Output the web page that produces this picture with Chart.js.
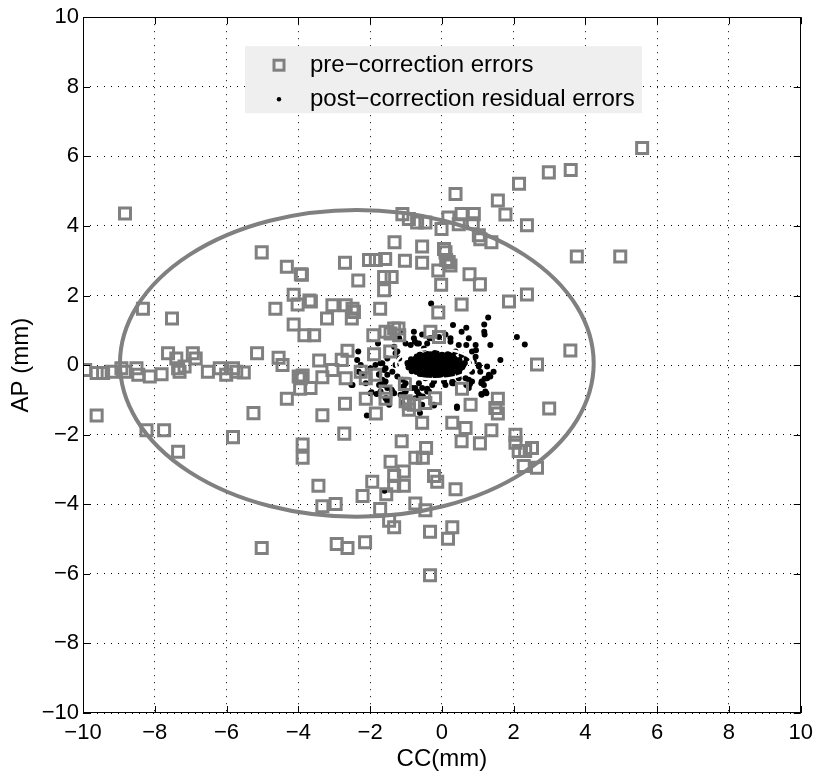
<!DOCTYPE html>
<html>
<head>
<meta charset="utf-8">
<script src="https://cdn.jsdelivr.net/npm/chart.js@4/dist/chart.umd.min.js"></script>
<style>
  html, body { margin: 0; padding: 0; background: #fff; }
  canvas { display: block; }
</style>
</head>
<body>
<canvas id="errChart" width="820" height="774"></canvas>
<script>
// pre-correction errors [CC, AP] in mm
const preCorrection = [
  [5.58, 6.24], [3.59, 5.61], [2.98, 5.54], [2.15, 5.21], [0.38, 4.92], [1.56, 4.73],
  [1.77, 4.33], [2.37, 4.02], [0.55, 4.34], [0.89, 4.34], [0.47, 4.05], [0.86, 4.08],
  [1.03, 3.73], [1.07, 3.62], [1.38, 3.53], [3.76, 3.12], [4.97, 3.12], [0.77, 2.61],
  [1.06, 2.32], [0.55, 1.74], [1.87, 1.83], [2.37, 2.03], [3.58, 0.42], [2.65, 0.02],
  [-1.1, 4.34], [-0.92, 4.2], [-0.69, 4.1], [-0.46, 4.1], [-0.01, 3.91], [0.18, 4.24],
  [-1.32, 3.53], [-0.55, 3.41], [0.06, 3.34], [0.1, 3.24], [0.19, 2.96], [0.24, 2.86],
  [0.12, 3.02], [-2.7, 2.94], [-2.03, 3.02], [-1.84, 3.02], [-1.58, 3.05], [-1.03, 3.0],
  [-0.55, 2.94], [-0.1, 2.72], [-0.02, 2.31], [-3.9, 2.6], [-2.33, 2.43], [-1.61, 2.53],
  [-1.4, 2.53], [-1.61, 2.15], [-0.1, 1.51], [-1.72, 1.62], [-3.65, 1.83], [-3.05, 1.72],
  [-2.68, 1.72], [-2.49, 1.62], [-2.45, 1.53], [-2.51, 1.34], [-3.2, 1.34], [-3.83, 0.86],
  [-3.56, 0.86], [-1.91, 0.86], [-1.43, 0.91], [-1.21, 1.05], [-0.32, 0.96], [-0.08, 0.81],
  [-1.57, 0.96], [-1.33, 1.05], [-1.19, 0.86],
  [-2.63, 0.41], [-2.79, 0.15], [-3.42, 0.13], [-1.89, 0.31], [-1.44, 0.39], [-3.05, -0.14],
  [-3.88, -0.3], [-3.66, -0.66], [-3.33, -0.35], [-2.68, -0.38], [-2.26, -0.19], [-2.12, -0.38],
  [-1.86, -0.28], [-1.03, -0.54], [0.56, -0.68], [-1.57, -0.76], [-1.01, -1.04],
  [-2.7, -1.11], [-2.12, -0.97], [-1.57, -0.97], [-0.92, -1.11], [-0.78, -1.14], [-0.19, -0.95],
  [0.8, -1.14], [1.56, -0.97], [2.99, -1.25], [1.49, -1.23],
  [1.56, -1.39], [0.29, -1.66], [0.66, -1.81], [1.38, -1.87], [0.55, -2.19], [1.06, -2.25],
  [2.05, -2.0], [2.05, -2.23], [2.14, -2.47], [2.32, -2.47], [2.51, -2.38], [2.28, -2.9],
  [2.65, -2.95], [-0.55, -1.66], [-3.33, -1.44], [-2.72, -1.97], [-1.84, -1.39], [-0.92, -1.28],
  [-0.46, -1.09], [-3.88, -2.28], [-3.88, -2.66], [-1.12, -2.19], [-0.44, -2.38], [-0.74, -2.66],
  [-0.53, -2.66], [-1.43, -2.78], [-1.06, -3.06], [-1.33, -3.19], [-1.94, -3.35], [-1.33, -3.47],
  [-1.06, -3.47], [-1.55, -3.71], [-0.22, -3.19], [-0.13, -3.35], [0.38, -3.57], [-3.44, -3.47],
  [-2.21, -3.76], [-2.96, -3.99], [-3.33, -4.06], [-0.74, -3.98], [-1.72, -4.14], [-0.46, -4.17],
  [-1.47, -4.47], [-1.33, -4.66], [-0.33, -4.79], [0.29, -4.66], [0.17, -4.99], [-2.93, -5.14],
  [-2.63, -5.26], [-2.14, -5.09], [-0.33, -6.04],
  [-9.62, -1.45], [-8.23, -1.87], [-7.74, -1.87], [-7.35, -2.49], [-5.82, -2.07], [-5.25, -1.38],
  [-4.32, -0.97], [-5.02, -5.26],
  [-8.83, 4.36], [-5.02, 3.24], [-4.32, 2.83], [-3.93, 2.61], [-4.13, 2.02], [-4.02, 1.74],
  [-3.69, 1.86], [-4.64, 1.62], [-8.33, 1.62], [-7.52, 1.34], [-4.13, 1.17], [-5.15, 0.34],
  [-4.55, 0.21], [-4.44, 0.0], [-3.99, -0.33], [-3.93, -0.38], [-3.95, -0.68],
  [-9.94, -0.14], [-9.62, -0.23], [-9.44, -0.23], [-9.2, -0.19], [-8.93, -0.09], [-8.83, -0.19],
  [-8.51, -0.09], [-8.46, -0.28], [-8.14, -0.33], [-7.81, -0.26], [-7.63, 0.34], [-7.4, 0.19],
  [-7.35, -0.09], [-7.31, -0.19], [-7.17, -0.04], [-6.94, 0.34], [-6.86, 0.19], [-6.52, -0.19],
  [-6.19, -0.09], [-6.01, -0.28], [-5.82, -0.09], [-5.73, -0.19], [-5.52, -0.21]
];

// post-correction residual errors [CC, AP] in mm
const postCorrection = [
  [-0.3, 1.77], [1.29, 1.37], [0.31, 1.15], [0.55, 0.96], [0.68, 1.07], [1.18, 1.17],
  [1.18, 0.96], [1.19, 0.88], [2.09, 0.81], [2.31, 0.59], [1.35, 0.58], [1.63, 0.15],
  [-1.08, 0.96], [-0.78, 0.96], [-0.55, 0.88], [-0.75, 0.67], [-0.34, 0.77], [-0.08, 0.81],
  [0.1, 0.88], [0.24, 0.67], [0.47, 0.58], [0.68, 0.58], [0.95, 0.43], [0.94, 0.24],
  [0.89, 0.1], [1.03, -0.04], [1.07, -0.19], [1.26, -0.04], [1.31, -0.28], [1.19, -0.39],
  [1.11, -0.47], [0.84, -0.19], [0.75, -0.42], [0.68, -0.57], [0.47, -0.38], [0.33, -0.52],
  [0.06, -0.47], [-0.22, -0.47], [-0.46, -0.38], [-0.64, -0.52], [-0.83, -0.66], [-1.06, -0.61],
  [-1.38, -0.76], [-1.57, -0.95], [-1.47, -1.14], [-0.55, -0.66], [-0.6, -0.9], [-0.36, -0.76],
  [-0.22, -1.14], [0.42, -1.19], [1.11, -0.85], [1.21, -0.76], [1.44, -0.19],
  [-1.33, 0.53], [-1.29, 0.34], [-1.52, 0.19], [-1.71, 0.05], [-1.57, -0.09], [-1.38, -0.19],
  [-1.24, -0.33], [-1.1, -0.42], [-1.01, -0.52], [-0.87, 0.58], [-0.64, 0.62], [-0.5, 0.48],
  [-1.19, 0.77], [0.38, 0.39], [0.55, 0.29], [0.69, 0.19], [-1.75, -0.28], [-1.66, -0.42],
  [-1.61, -0.57], [-1.71, -0.76], [-1.15, -0.85], [-0.74, -0.95], [-1.1, -1.09],
  [-1.78, 0.62], [-2.33, 0.39], [-2.36, 0.15], [-2.26, 0.0], [-2.32, -0.19], [-2.23, -0.26],
  [-1.99, -0.09], [-1.85, 0.0], [-2.49, -0.57], [-2.12, -0.52], [-1.96, -0.78], [-1.75, -0.57],
  [-1.57, -0.47], [-1.52, -0.66], [-1.47, -1.0], [-1.33, -0.81], [-1.66, 0.05], [-1.61, -0.14],
  [-1.52, -0.28], [-1.75, -0.26], [-1.24, 0.39], [-1.19, 0.19], [-1.29, 0.0], [-1.01, 0.62],
  [-0.78, 0.77], [-0.69, 0.62], [-0.41, 0.62], [-0.27, 0.77], [0.24, 0.77],
  [-1.01, -0.76], [-0.74, -0.66], [-0.64, -0.85], [-0.41, -0.76], [-0.27, -0.57], [-0.55, -1.14],
  [0.1, -0.57], [0.29, -0.47], [0.47, -0.28], [0.66, -0.38], [0.84, -0.47], [0.75, -0.66],
  [1.17, -0.57], [1.26, -0.38], [1.35, -0.33], [1.1, -0.83], [0.84, 0.39], [1.03, 0.0],
  [0.94, 0.58], [0.75, 0.77], [0.42, -1.23],
  [-2.52, -0.57], [-1.99, -0.81], [-1.82, -0.83], [-1.7, -0.55], [-1.55, -0.95], [-1.52, -1.04],
  [-1.4, -0.71], [-1.1, -0.64], [-1.06, -0.83], [-0.69, -0.76], [-0.53, -0.9], [-0.41, -0.68],
  [-0.22, -1.16], [-0.61, -1.38], [-2.09, -1.45], [0.78, -0.55], [1.1, -0.52], [1.24, -0.81],
  [0.29, -0.52], [-1.6, -3.61],
  // dense core inside the residual ellipse
  [-0.9, 0.05], [-0.8, 0.15], [-0.8, -0.05], [-0.7, 0.25], [-0.7, 0.05], [-0.7, -0.15],
  [-0.6, 0.3], [-0.6, 0.1], [-0.6, -0.1], [-0.6, -0.25], [-0.5, 0.2], [-0.5, 0.0],
  [-0.5, -0.2], [-0.4, 0.32], [-0.4, 0.12], [-0.4, -0.08], [-0.4, -0.28], [-0.3, 0.22],
  [-0.3, 0.02], [-0.3, -0.18], [-0.2, 0.35], [-0.2, 0.15], [-0.2, -0.05], [-0.2, -0.25],
  [-0.1, 0.25], [-0.1, 0.05], [-0.1, -0.15], [-0.1, -0.3], [0.0, 0.3], [0.0, 0.1],
  [0.0, -0.1], [0.0, -0.25], [0.1, 0.22], [0.1, 0.02], [0.1, -0.18], [0.2, 0.3],
  [0.2, 0.1], [0.2, -0.1], [0.2, -0.25], [0.3, 0.2], [0.3, 0.0], [0.3, -0.2],
  [0.4, 0.12], [0.4, -0.08], [0.5, 0.05], [0.5, -0.12], [0.6, 0.0], [-0.75, 0.0],
  [-0.55, 0.18], [-0.35, -0.12], [-0.15, 0.28], [0.05, -0.05], [0.15, 0.15], [0.25, -0.15],
  [0.35, 0.08], [-0.45, 0.08], [-0.25, 0.1], [0.45, -0.02], [-0.65, -0.05], [0.05, 0.2],
  [-0.62, 0.3], [-0.46, 0.29], [-0.31, 0.31], [-0.14, 0.33], [0.02, 0.29], [0.16, 0.31], [0.31, 0.27],
  [-0.86, 0.17], [-0.73, 0.19], [-0.57, 0.16], [-0.44, 0.19], [-0.33, 0.16], [-0.18, 0.19],
  [-0.05, 0.17], [0.09, 0.18], [0.22, 0.16], [0.36, 0.18], [0.49, 0.15],
  [-0.96, 0.06], [-0.83, 0.05], [-0.67, 0.07], [-0.54, 0.05], [-0.41, 0.06], [-0.27, 0.04],
  [-0.14, 0.07], [-0.01, 0.05], [0.13, 0.06], [0.27, 0.04], [0.39, 0.07], [0.53, 0.05], [0.64, 0.06],
  [-0.93, -0.07], [-0.79, -0.06], [-0.66, -0.08], [-0.52, -0.06], [-0.38, -0.07], [-0.25, -0.05],
  [-0.11, -0.08], [0.03, -0.06], [0.17, -0.07], [0.31, -0.05], [0.44, -0.07], [0.57, -0.06],
  [-0.84, -0.18], [-0.71, -0.2], [-0.57, -0.17], [-0.45, -0.19], [-0.31, -0.21], [-0.17, -0.18],
  [-0.04, -0.2], [0.11, -0.17], [0.24, -0.19], [0.37, -0.18], [0.48, -0.2],
  [-0.61, -0.28], [-0.47, -0.3], [-0.33, -0.29], [-0.18, -0.31], [-0.03, -0.28], [0.13, -0.3], [0.28, -0.28]
];

// error ellipses (centre and semi-axes in mm)
const preEllipse = { cx: -2.37, cy: 0.05, rx: 6.6, ry: 4.41 };
const postEllipse = { cx: -0.2, cy: 0.03, rx: 1.08, ry: 0.44 };

const axisTicks = [-10, -8, -6, -4, -2, 0, 2, 4, 6, 8, 10];
const seriesLabels = ["pre\u2212correction errors", "post\u2212correction residual errors"];

const FONT = "'Liberation Sans', Arial, Helvetica, sans-serif";
const GREY = "#808080";

function toPoints(list) {
  return list.map(([x, y]) => ({ x: x, y: y }));
}

function minusSign(v) {
  return String(v).replace("-", "\u2212");
}

function drawEllipse(chart, e, color, width) {
  const xs = chart.scales.x, ys = chart.scales.y;
  const cx = xs.getPixelForValue(e.cx);
  const cy = ys.getPixelForValue(e.cy);
  const rx = Math.abs(xs.getPixelForValue(e.cx + e.rx) - cx);
  const ry = Math.abs(ys.getPixelForValue(e.cy + e.ry) - cy);
  const ctx = chart.ctx;
  ctx.save();
  ctx.beginPath();
  ctx.ellipse(cx, cy, rx, ry, 0, 0, Math.PI * 2);
  ctx.strokeStyle = color;
  ctx.lineWidth = width;
  ctx.stroke();
  ctx.restore();
}

// ellipses, axes box with inward ticks, and the boxed legend
const overlayPlugin = {
  id: "overlay",
  afterDatasetsDraw(chart) {
    const ctx = chart.ctx;
    const area = chart.chartArea;
    const xs = chart.scales.x, ys = chart.scales.y;

    drawEllipse(chart, preEllipse, GREY, 4);
    drawEllipse(chart, postEllipse, "#ffffff", 2.5);

    // frame
    ctx.save();
    ctx.strokeStyle = "#000";
    ctx.lineWidth = 1;
    ctx.strokeRect(Math.round(area.left) + 0.5, Math.round(area.top) + 0.5,
      Math.round(area.right - area.left) - 1, Math.round(area.bottom - area.top) - 1);

    // inward ticks on all four sides
    const len = 7;
    ctx.beginPath();
    axisTicks.forEach(v => {
      const px = Math.round(xs.getPixelForValue(v)) + 0.5;
      ctx.moveTo(px, area.bottom); ctx.lineTo(px, area.bottom - len);
      ctx.moveTo(px, area.top); ctx.lineTo(px, area.top + len);
      const py = Math.round(ys.getPixelForValue(v)) + 0.5;
      ctx.moveTo(area.left, py); ctx.lineTo(area.left + len, py);
      ctx.moveTo(area.right, py); ctx.lineTo(area.right - len, py);
    });
    ctx.stroke();

    // legend
    const lx = area.left + 162, ly = area.top + 29;
    const lw = 397, lh = 67;
    ctx.fillStyle = "#efefef";
    ctx.fillRect(lx, ly, lw, lh);

    const markX = lx + 34;
    const textX = lx + 65;
    const row1 = ly + 19, row2 = ly + 53;

    ctx.strokeStyle = GREY;
    ctx.lineWidth = 3;
    ctx.strokeRect(markX - 5, row1 - 5, 10, 10);

    ctx.fillStyle = "#000";
    ctx.beginPath();
    ctx.arc(markX, row2, 2.2, 0, Math.PI * 2);
    ctx.fill();

    ctx.font = "24px " + FONT;
    ctx.textBaseline = "middle";
    ctx.textAlign = "left";
    ctx.fillText(seriesLabels[0], textX, row1);
    ctx.fillText(seriesLabels[1], textX, row2);
    ctx.restore();
  }
};

const axisBase = {
  type: "linear",
  min: -10,
  max: 10,
  grid: { color: "#000", lineWidth: 1, drawTicks: false },
  border: { display: false, dash: [1, 6] },
  ticks: {
    stepSize: 2,
    color: "#000",
    font: { family: FONT, size: 22 },
    callback: v => minusSign(v)
  }
};

new Chart(document.getElementById("errChart").getContext("2d"), {
  type: "scatter",
  data: {
    datasets: [
      {
        label: seriesLabels[0],
        data: toPoints(preCorrection),
        pointStyle: "rect",
        pointRadius: 7.8,
        borderWidth: 3,
        borderColor: GREY,
        backgroundColor: "rgba(0,0,0,0)"
      },
      {
        label: seriesLabels[1],
        data: toPoints(postCorrection),
        pointStyle: "circle",
        pointRadius: 3,
        borderWidth: 0,
        backgroundColor: "#000"
      }
    ]
  },
  options: {
    responsive: false,
    animation: false,
    events: [],
    devicePixelRatio: 1,
    layout: { padding: { top: 14, right: 17, left: 0, bottom: 0 } },
    plugins: {
      legend: { display: false },
      tooltip: { enabled: false }
    },
    scales: {
      x: Object.assign({}, axisBase, {
        position: "bottom",
        ticks: Object.assign({}, axisBase.ticks, { padding: 7, maxRotation: 0 }),
        title: {
          display: true, text: "CC(mm)", color: "#000",
          font: { family: FONT, size: 24 }, padding: { top: 0, bottom: 0 }
        },
        afterFit: s => { s.height = 61; }
      }),
      y: Object.assign({}, axisBase, {
        position: "left",
        ticks: Object.assign({}, axisBase.ticks, { padding: 4 }),
        title: {
          display: true, text: "AP (mm)", color: "#000",
          font: { family: FONT, size: 24 }, padding: { top: 7, bottom: 0 }
        },
        afterFit: s => { s.width = 83; }
      })
    }
  },
  plugins: [overlayPlugin]
});
</script>
</body>
</html>
